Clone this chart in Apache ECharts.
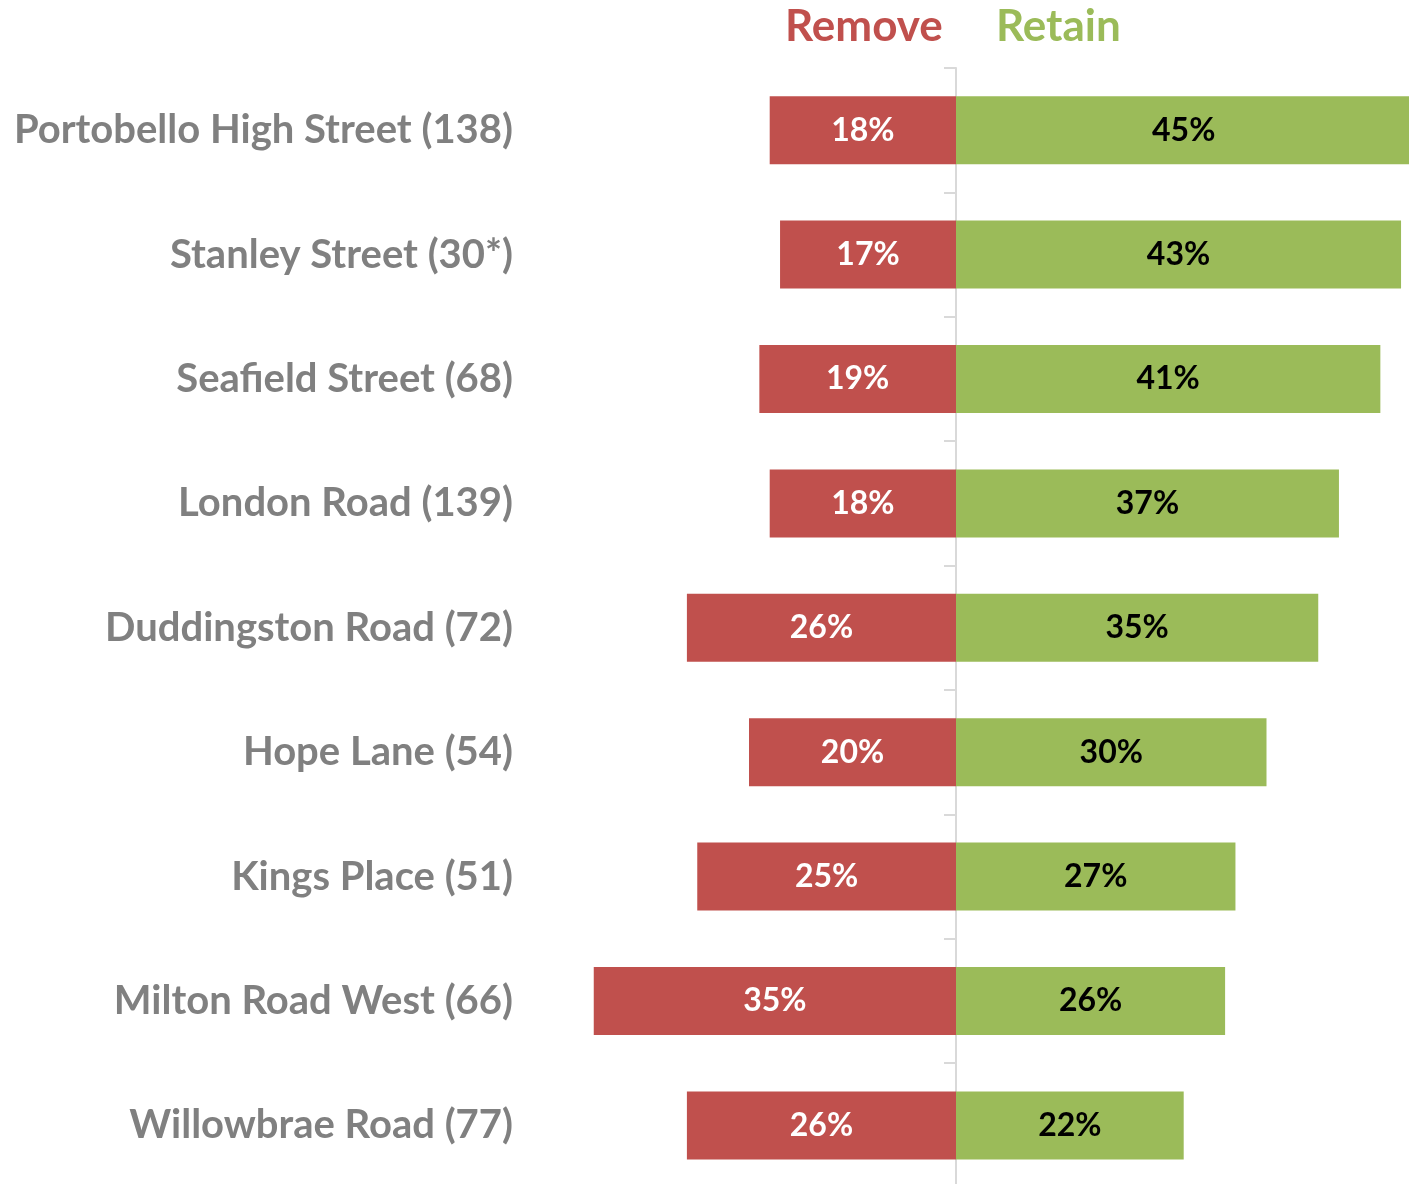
<!DOCTYPE html>
<html>
<head>
<meta charset="utf-8">
<script src="https://cdn.jsdelivr.net/npm/echarts@6/dist/echarts.min.js"></script>
<style>
  html, body { margin: 0; padding: 0; background: #fff; overflow: hidden; }
  #chart { width: 1420px; height: 1192px; }
</style>
</head>
<body>
<div id="chart"></div>
<script>
// streets (respondents)
var streets = [
  "Portobello High Street (138)",
  "Stanley Street (30*)",
  "Seafield Street (68)",
  "London Road (139)",
  "Duddingston Road (72)",
  "Hope Lane (54)",
  "Kings Place (51)",
  "Milton Road West (66)",
  "Willowbrae Road (77)"
];
var removePct = [18, 17, 19, 18, 26, 20, 25, 35, 26];
var retainPct = [45, 43, 41, 37, 35, 30, 27, 26, 22];
var seriesNames = ["Remove", "Retain"];

var RED = "#C0504D";
var GREEN = "#9BBB59";
var FONT = "Lato";

var myChart = echarts.init(document.getElementById("chart"));
var option = {
  animation: false,
  textStyle: { fontFamily: FONT },
  title: [
    {
      text: seriesNames[0], left: 780, top: 0,
      textStyle: { color: RED, fontSize: 44, fontWeight: "bold", fontFamily: FONT }
    },
    {
      text: seriesNames[1], left: 991, top: 0,
      textStyle: { color: GREEN, fontSize: 44, fontWeight: "bold", fontFamily: FONT }
    }
  ],
  // container is a bit bigger than the window, the overflow is cut off
  grid: { left: 542, top: 68, width: 869.4, height: 1119.6 },
  xAxis: {
    type: "value",
    min: -40,
    max: 44,
    show: false
  },
  yAxis: [
    {
      // centre line with ticks
      type: "category",
      data: streets,
      inverse: true,
      axisLine: { onZero: true, lineStyle: { color: "#d9d9d9", width: 2 } },
      axisTick: { show: true, length: 12, lineStyle: { color: "#d9d9d9", width: 2 } },
      axisLabel: { show: false }
    },
    {
      // street names on the left
      type: "category",
      data: streets,
      inverse: true,
      position: "left",
      axisLine: { show: false, onZero: false },
      axisTick: { show: false },
      axisLabel: {
        margin: 29,
        color: "#808080",
        fontSize: 40,
        fontWeight: "bold",
        fontFamily: FONT
      }
    }
  ],
  series: [
    {
      name: seriesNames[0],
      type: "bar",
      stack: "total",
      barWidth: 68,
      data: removePct.map(function (v) { return -v; }),
      itemStyle: { color: RED },
      label: {
        show: true,
        position: "inside",
        color: "#fff",
        fontSize: 32,
        fontWeight: "bold",
        fontFamily: FONT,
        formatter: function (p) { return Math.abs(p.value) + "%"; }
      }
    },
    {
      name: seriesNames[1],
      type: "bar",
      stack: "total",
      barWidth: 68,
      data: retainPct,
      itemStyle: { color: GREEN },
      label: {
        show: true,
        position: "inside",
        color: "#000",
        fontSize: 32,
        fontWeight: "bold",
        fontFamily: FONT,
        formatter: "{c}%"
      }
    }
  ]
};
option && myChart.setOption(option);
window.addEventListener("resize", function () {
  myChart.resize();
});
</script>
</body>
</html>
